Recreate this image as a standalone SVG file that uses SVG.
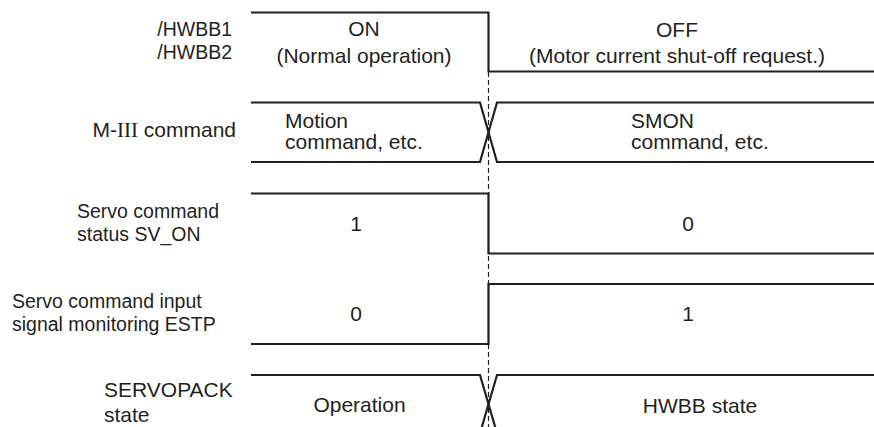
<svg xmlns="http://www.w3.org/2000/svg" width="874" height="427" viewBox="0 0 874 427">
<style>
.sig{fill:none;stroke:#231f20;stroke-width:2.2;stroke-linejoin:miter}
.dash{fill:none;stroke:#231f20;stroke-width:1.2;stroke-dasharray:5,3}
text{font-family:"Liberation Sans",Arial,sans-serif;font-size:21px;fill:#231f20}
.c{text-anchor:middle}
.r{text-anchor:end}
.t{font-size:19.5px}
.roman{font-family:"Liberation Serif","Times New Roman",serif}
</style>
<rect width="874" height="427" fill="#ffffff"/>
<g id="connectors">
<line class="dash" x1="488.5" y1="72" x2="488.5" y2="427"/>
</g>
<g id="hwbb">
<text class="r t" x="232" y="36">/HWBB1<tspan x="232" dy="22.5">/HWBB2</tspan></text>
<path class="sig" d="M251,12.5 H488.5 V71.5 H874"/>
<text class="c" x="364" y="36">ON<tspan x="364" dy="27">(Normal operation)</tspan></text>
<text class="c" x="677" y="37">OFF<tspan x="677" dy="26">(Motor current shut-off request.)</tspan></text>
</g>
<g id="m3cmd">
<text class="r" x="236" y="137">M-<tspan class="roman">III</tspan> command</text>
<path class="sig" d="M251,102.5 H480 L497,162 H874"/>
<path class="sig" d="M251,162 H480 L497,102.5 H874"/>
<text x="285" y="127.5">Motion<tspan x="285" dy="21">command, etc.</tspan></text>
<text x="631" y="127.5">SMON<tspan x="631" dy="21">command, etc.</tspan></text>
</g>
<g id="svon">
<text class="t" x="77" y="218">Servo command<tspan x="77" dy="22.5">status SV_ON</tspan></text>
<path class="sig" d="M251,193.5 H488.5 V253.5 H874"/>
<text class="c" x="356" y="231">1</text>
<text class="c" x="688" y="231">0</text>
</g>
<g id="estp">
<text class="t" x="12" y="308">Servo command input<tspan x="12" dy="22.5">signal monitoring ESTP</tspan></text>
<path class="sig" d="M251,344 H488.5 V284 H874"/>
<text class="c" x="356" y="320.5">0</text>
<text class="c" x="688" y="320.5">1</text>
</g>
<g id="servopack">
<text x="104" y="397">SERVOPACK<tspan x="104" dy="25">state</tspan></text>
<path class="sig" d="M251,375 H480 L497.5,435"/>
<path class="sig" d="M874,375 H497 L479.5,435"/>
<text class="c" x="359.5" y="412">Operation</text>
<text class="c" x="700" y="413">HWBB state</text>
</g>
</svg>
